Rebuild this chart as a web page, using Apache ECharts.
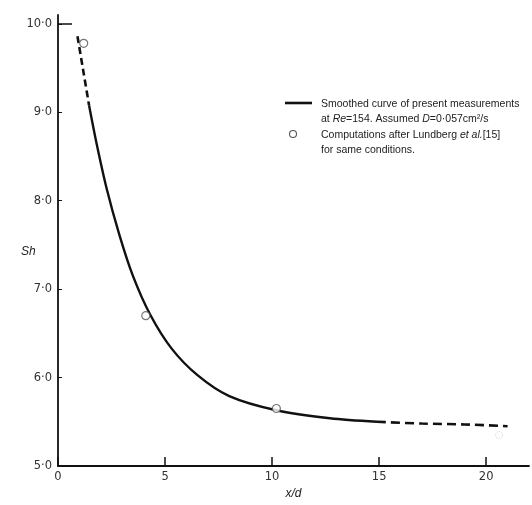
<!DOCTYPE html>
<html>
<head>
<meta charset="utf-8">
<script src="https://cdn.jsdelivr.net/npm/echarts@6/dist/echarts.min.js"></script>
<style>html,body{margin:0;padding:0;background:#fff}#c{width:532px;height:505px}</style>
</head>
<body>
<div id="c"></div>
<script>
// Smoothed curve (x/d, Sh), split by line style
const curveDashedStart = [[0.91, 9.86], [1.2, 9.44], [1.45, 9.08]];
const curveSolid = [[1.45, 9.08], [1.8, 8.65], [2.26, 8.15], [2.86, 7.62], [3.5, 7.15], [4.31, 6.71], [5.3, 6.33], [6.5, 6.03], [8.0, 5.79], [10.2, 5.63], [12.7, 5.54], [14.9, 5.5]];
const curveDashedEnd = [[14.9, 5.5], [17.0, 5.48], [19.0, 5.47], [21.0, 5.45]];
// Computations after Lundberg et al.
const computedX = [1.2, 4.1, 10.2];
const computedY = [9.78, 6.7, 5.65];
const faintX = [20.6];
const faintY = [5.35];
// Tick values / labels
const xTicks = [0, 5, 10, 15, 20];
const xTickLabels = ['0', '5', '10', '15', '20'];
const yTicks = [5, 6, 7, 8, 9, 10];
const yTickLabels = ['5·0', '6·0', '7·0', '8·0', '9·0', '10·0'];

const chart = echarts.init(document.getElementById('c'), null, {renderer: 'canvas'});
const font = 'Liberation Sans';
const tickFont = 'DejaVu Sans';
const ink = '#111';

const option = {
  animation: false,
  backgroundColor: '#fff',
  grid: {left: 58, right: 3, top: 15, bottom: 35},
  xAxis: {
    type: 'value', min: 0, max: 22,
    name: 'x/d', nameLocation: 'middle', nameGap: 22,
    nameTextStyle: {fontFamily: font, fontStyle: 'italic', fontSize: 12, color: '#222'},
    axisLine: {show: true, onZero: false, lineStyle: {color: ink, width: 1.8}},
    axisTick: {show: true, inside: true, length: 9, customValues: xTicks, lineStyle: {color: ink, width: 1.5}},
    axisLabel: {customValues: xTicks, formatter: v => xTickLabels[xTicks.indexOf(v)] ?? '', fontFamily: tickFont, fontSize: 11.5, color: '#333', margin: 5},
    splitLine: {show: false}
  },
  yAxis: [{
    type: 'value', min: 5, max: 10.1,
    axisLine: {show: true, onZero: false, lineStyle: {color: ink, width: 1.8}},
    axisTick: {show: true, inside: true, length: 4, customValues: yTicks, lineStyle: {color: ink, width: 1}},
    axisLabel: {customValues: yTicks, formatter: v => yTickLabels[yTicks.indexOf(v)] ?? '', fontFamily: tickFont, fontSize: 11.5, color: '#333', margin: 6},
    splitLine: {show: false}
  }, {
    type: 'value', min: 5, max: 10.1, position: 'left',
    axisLine: {show: false},
    axisTick: {show: true, inside: true, length: 14, customValues: [10], lineStyle: {color: ink, width: 1.5}},
    axisLabel: {show: false},
    splitLine: {show: false}
  }],
  series: [
    {type: 'line', data: curveDashedStart, smooth: 0.3, symbol: 'none', lineStyle: {color: ink, width: 2.6, type: [7, 4]}},
    {type: 'line', data: curveSolid, smooth: 0.3, symbol: 'none', lineStyle: {color: ink, width: 2.4}},
    {type: 'line', data: curveDashedEnd, smooth: 0.3, symbol: 'none', lineStyle: {color: ink, width: 2.6, type: [9, 5]}},
    {type: 'scatter', data: computedX.map((x, i) => [x, computedY[i]]), symbol: 'circle', symbolSize: 8, z: 5,
     itemStyle: {color: '#fff', borderColor: '#555', borderWidth: 1.2}},
    {type: 'scatter', data: faintX.map((x, i) => [x, faintY[i]]), symbol: 'circle', symbolSize: 7, z: 5,
     itemStyle: {color: 'rgba(255,255,255,0)', borderColor: '#ccc', borderWidth: 1, borderType: 'dotted'}}
  ],
  graphic: [
    {type: 'text', left: 21, top: 246, style: {text: 'Sh', fontFamily: font, fontStyle: 'italic', fontSize: 12, fill: '#222'}},
    {type: 'line', shape: {x1: 285, y1: 103, x2: 312, y2: 103}, style: {stroke: ink, lineWidth: 2.6}},
    {type: 'circle', shape: {cx: 293, cy: 134, r: 3.5}, style: {fill: '#fff', stroke: '#555', lineWidth: 1.1}},
    {type: 'text', left: 321, top: 96, style: {
      text: 'Smoothed curve of present measurements\nat {i|Re}=154. Assumed {i|D}=0·057cm²/s',
      fontFamily: font, fontSize: 10.5, lineHeight: 15.5, fill: '#222',
      rich: {i: {fontStyle: 'italic', fontFamily: font, fontSize: 10.5, fill: '#222'}}
    }},
    {type: 'text', left: 321, top: 127, style: {
      text: 'Computations after Lundberg {i|et al.}[15]\nfor same conditions.',
      fontFamily: font, fontSize: 10.5, lineHeight: 15.5, fill: '#222',
      rich: {i: {fontStyle: 'italic', fontFamily: font, fontSize: 10.5, fill: '#222'}}
    }}
  ]
};
chart.setOption(option);
</script>
</body>
</html>
